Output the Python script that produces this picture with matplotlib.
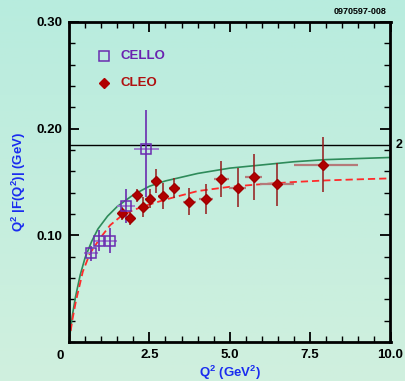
import numpy as np
import matplotlib
matplotlib.use("Agg")
import matplotlib.pyplot as plt
from matplotlib.ticker import MultipleLocator, FixedLocator

plt.rcParams["font.family"] = ["Liberation Sans", "DejaVu Sans"]
plt.rcParams["font.weight"] = "bold"
plt.rcParams["mathtext.fontset"] = "custom"
plt.rcParams["mathtext.rm"] = "Liberation Sans:bold"
plt.rcParams["mathtext.bf"] = "Liberation Sans:bold"
plt.rcParams["mathtext.default"] = "rm"

# CLEO measurements: Q^2 (GeV^2), Q^2|F| (GeV), errors
cleo_q2 = [1.65, 1.91, 2.10, 2.31, 2.51, 2.70, 2.93, 3.28, 3.74, 4.25, 4.74, 5.25, 5.74, 6.46, 7.89]
cleo_val = [0.121, 0.116, 0.1375, 0.1266, 0.1344, 0.151, 0.1366, 0.1444, 0.1316, 0.134, 0.153, 0.1447, 0.1547, 0.1478, 0.1662]
cleo_yerr = [0.0065, 0.0063, 0.0063, 0.009, 0.0087, 0.0114, 0.012, 0.0094, 0.0128, 0.0137, 0.0169, 0.018, 0.022, 0.020, 0.026]
cleo_xerr_lo = [0.13, 0.14, 0.13, 0.13, 0.14, 0.14, 0.15, 0.16, 0.2, 0.22, 0.24, 0.27, 0.27, 0.53, 0.89]
cleo_xerr_hi = [0.13, 0.14, 0.13, 0.13, 0.14, 0.14, 0.15, 0.16, 0.2, 0.22, 0.24, 0.27, 0.27, 0.53, 1.11]

# CELLO measurements
cello_q2 = [0.69, 0.94, 1.27, 1.77, 2.40]
cello_val = [0.0831, 0.095, 0.095, 0.1275, 0.1812]
cello_yerr_lo = [0.007, 0.010, 0.012, 0.016, 0.045]
cello_yerr_hi = [0.007, 0.010, 0.012, 0.016, 0.036]
cello_xerr = [0.22, 0.16, 0.23, 0.28, 0.39]

# Interpolation curve (solid) and fit curve (dashed)
curve_q2 = [0.0, 0.1, 0.2, 0.35, 0.5, 0.7, 0.9, 1.2, 1.5, 2.0, 2.5, 3.0, 4.0, 5.0, 6.0, 7.0, 8.0, 9.0, 10.0]
solid_val = [0.0, 0.024, 0.042, 0.063, 0.079, 0.094, 0.106, 0.118, 0.127, 0.138, 0.146, 0.151, 0.158, 0.163, 0.166, 0.169, 0.171, 0.172, 0.173]
dashed_q2 = [0.0, 0.1, 0.22, 0.43, 0.65, 0.96, 1.28, 1.6, 2.0, 2.4, 3.0, 4.0, 5.0, 6.0, 7.0, 8.0, 9.0, 10.0]
dashed_val = [0.0, 0.020, 0.039, 0.066, 0.083, 0.097, 0.1095, 0.1175, 0.1237, 0.128, 0.1335, 0.1415, 0.1455, 0.148, 0.150, 0.1515, 0.1525, 0.1534]

asymptote = 0.185

W, H = 406, 381
fig = plt.figure(figsize=(W / 100, H / 100), dpi=100)

# background gradient
bg = fig.add_axes([0, 0, 1, 1], zorder=-10)
top = np.array([184, 236, 222]) / 255
bot = np.array([208, 240, 222]) / 255
t = np.linspace(0, 1, 256)[:, None]
grad = top[None, :] * (1 - t) + bot[None, :] * t
bg.imshow(grad[:, None, :], aspect="auto", extent=[0, 1, 0, 1])
bg.set_axis_off()

ax = fig.add_axes([69 / W, 1 - 342 / H, (390.5 - 69) / W, (342 - 22) / H])
ax.set_facecolor("none")
ax.set_xlim(0, 10)
ax.set_ylim(0, 0.30)

ax.plot(curve_q2, solid_val, color="#2e8b5a", lw=1.2, zorder=2)
ax.plot(dashed_q2, dashed_val, color="#ff2a2a", lw=1.3, dashes=(4, 2.2), zorder=2)
ax.axhline(asymptote, color="black", lw=1.0, zorder=2)

# CLEO: light horizontal bars, darker vertical bars
ax.errorbar(cleo_q2, cleo_val, xerr=[cleo_xerr_lo, cleo_xerr_hi], fmt="none",
            ecolor="#b57a7a", elinewidth=1.6, capsize=0, zorder=3)
ax.errorbar(cleo_q2, cleo_val, yerr=cleo_yerr, fmt="none",
            ecolor="#951a1a", elinewidth=1.3, capsize=0, alpha=0.85, zorder=3)
ax.plot(cleo_q2, cleo_val, "D", color="#b00000", ms=5.3, mec="#a00000", zorder=5)

# CELLO
ax.errorbar(cello_q2, cello_val, xerr=cello_xerr, fmt="none",
            ecolor="#9a78cc", elinewidth=1.3, capsize=0, zorder=3)
ax.errorbar(cello_q2, cello_val, yerr=[cello_yerr_lo, cello_yerr_hi], fmt="none",
            ecolor="#6a2bb0", elinewidth=1.2, capsize=0, zorder=3)
ax.plot(cello_q2, cello_val, "s", mfc="none", mec="#6a2bb0", mew=1.1, ms=6.5, zorder=6)

# axes frame and ticks
for s in ax.spines.values():
    s.set_linewidth(2.0)
ax.xaxis.set_major_locator(FixedLocator([2.5, 5.0, 7.5, 10.0]))
ax.xaxis.set_minor_locator(MultipleLocator(0.5))
ax.yaxis.set_major_locator(FixedLocator([0.10, 0.20, 0.30]))
ax.yaxis.set_minor_locator(MultipleLocator(0.02))
ax.tick_params(which="both", direction="in", top=True, right=True, color="black")
ax.tick_params(which="major", length=7, width=1.3, labelsize=9.5, pad=5)
ax.tick_params(which="minor", length=4, width=1.0)
ax.set_xticklabels(["2.5", "5.0", "7.5", "10.0"], fontweight="bold")
ax.set_yticklabels(["0.10", "0.20", "0.30"], fontweight="bold")
ax.text(-0.028, -0.026, "0", transform=ax.transAxes, ha="center", va="top",
        fontsize=9.5, fontweight="bold")

ax.set_xlabel(r"Q$^2$ (GeV$^2$)", color="#1a2cf0", fontsize=9.5, fontweight="bold", labelpad=2)
ax.set_ylabel(r"Q$^2$ |F(Q$^2$)| (GeV)", color="#1a2cf0", fontsize=9.5, fontweight="bold")
ax.yaxis.set_label_coords(-0.128, 0.5)

# legend entries
ax.plot([1.09], [0.268], "s", mfc="none", mec="#6a2bb0", mew=1.1, ms=6.5, clip_on=False)
ax.text(1.6, 0.268, "CELLO", color="#6a22b0", fontsize=9.5, fontweight="bold", va="center")
ax.plot([1.09], [0.2428], "D", color="#b00000", ms=5.3, clip_on=False)
ax.text(1.6, 0.2428, "CLEO", color="#b01010", fontsize=9.5, fontweight="bold", va="center")

ax.text(10.15, asymptote, "2", fontsize=9, fontweight="bold", va="center", ha="left")
fig.text(387 / W, 1 - 12 / H, "0970597-008", fontsize=6.5, fontweight="bold",
         ha="right", va="center")

fig.savefig("out.png", dpi=100)
